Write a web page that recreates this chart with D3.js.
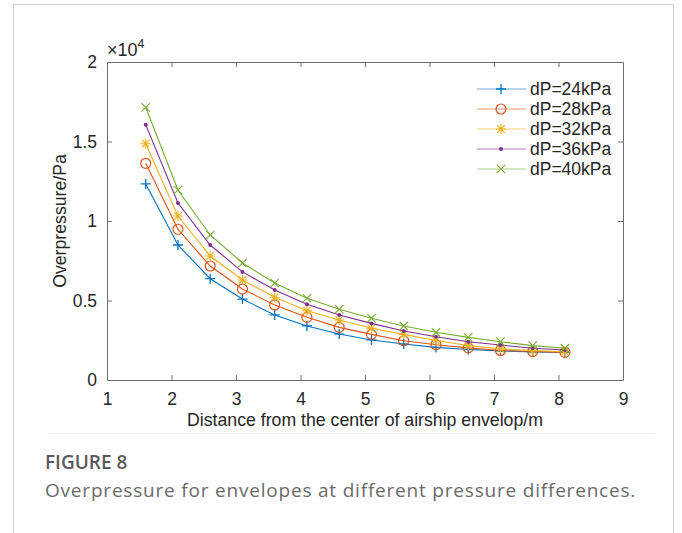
<!DOCTYPE html>
<html lang="en">
<head>
    <meta charset="UTF-8">
    <script src="https://cdn.jsdelivr.net/npm/d3@7"></script>
    <title>Figure 8</title>
    <style>
        body { margin: 0; background: white; }
        svg { display: block; }
    </style>
</head>
<body>
    <div class="fig"></div>
    <script>
        // distance from centre (m)
        const distances = [1.6, 2.1, 2.6, 3.1, 3.6, 4.1, 4.6, 5.1, 5.6, 6.1, 6.6, 7.1, 7.6, 8.1];

        // overpressure (Pa) for each pressure difference
        const dp24 = [12330, 8490, 6370, 5090, 4090, 3400, 2890, 2520, 2260, 2050, 1920, 1830, 1770, 1740];
        const dp28 = [13630, 9480, 7170, 5720, 4720, 3940, 3310, 2870, 2470, 2220, 2020, 1860, 1790, 1740];
        const dp32 = [14860, 10310, 7800, 6290, 5200, 4360, 3770, 3250, 2870, 2480, 2170, 1960, 1850, 1780];
        const dp36 = [16060, 11130, 8490, 6800, 5660, 4760, 4090, 3560, 3080, 2720, 2410, 2200, 2000, 1890];
        const dp40 = [17150, 11950, 9120, 7360, 6100, 5140, 4450, 3880, 3400, 3000, 2680, 2410, 2160, 2000];

        const seriesNames = ["dP=24kPa", "dP=28kPa", "dP=32kPa", "dP=36kPa", "dP=40kPa"];
        const seriesColors = ["#0072BD", "#D95319", "#EDB120", "#7E2F8E", "#77AC30"];
        const seriesMarkers = ["plus", "circle", "star", "dot", "cross"];
        const seriesValues = [dp24, dp28, dp32, dp36, dp40];

        const xTicks = [1, 2, 3, 4, 5, 6, 7, 8, 9];
        const yTicks = [0, 5000, 10000, 15000, 20000];
        const yTickLabels = ["0", "0.5", "1", "1.5", "2"];

        const width = 682, height = 533;
        const plot = { left: 107, top: 62, right: 623, bottom: 380 };

        const svg = d3.select(".fig").append("svg")
            .attr("width", width)
            .attr("height", height);

        // card outline
        svg.append("path")
            .attr("d", `M13.5,${height} V4.5 H673.5 V${height}`)
            .attr("fill", "none")
            .attr("stroke", "#d0d0d0")
            .attr("stroke-width", 1);

        const x = d3.scaleLinear().domain([1, 9]).range([plot.left, plot.right]);
        const y = d3.scaleLinear().domain([0, 20000]).range([plot.bottom, plot.top]);

        const axisColor = "#6e6e6e";
        const font = "'Liberation Sans', Arial, sans-serif";

        // axes (ticks point inward, box on)
        const gx = svg.append("g")
            .attr("transform", `translate(0,${plot.bottom})`)
            .call(d3.axisBottom(x).tickValues(xTicks).tickSizeInner(-5).tickSizeOuter(0).tickPadding(13));
        const gxTop = svg.append("g")
            .attr("transform", `translate(0,${plot.top})`)
            .call(d3.axisTop(x).tickValues(xTicks).tickSizeInner(-5).tickSizeOuter(0).tickFormat(""));
        const gy = svg.append("g")
            .attr("transform", `translate(${plot.left},0)`)
            .call(d3.axisLeft(y).tickValues(yTicks).tickSizeInner(-5).tickSizeOuter(0).tickPadding(10)
                .tickFormat((d, i) => yTickLabels[i]));
        const gyRight = svg.append("g")
            .attr("transform", `translate(${plot.right},0)`)
            .call(d3.axisRight(y).tickValues(yTicks).tickSizeInner(-5).tickSizeOuter(0).tickFormat(""));

        [gx, gxTop, gy, gyRight].forEach(g => {
            g.select(".domain").attr("stroke", axisColor);
            g.selectAll(".tick line").attr("stroke", axisColor);
            g.selectAll(".tick text")
                .attr("fill", "#262626")
                .style("font-family", font)
                .style("font-size", "17.5px");
        });
        gx.selectAll(".tick line").filter(d => d === 1 || d === 9).remove();
        gxTop.selectAll(".tick line").filter(d => d === 1 || d === 9).remove();
        gy.selectAll(".tick line").filter(d => d === 0 || d === 20000).remove();
        gyRight.selectAll(".tick line").filter(d => d === 0 || d === 20000).remove();

        // exponent label
        const expo = svg.append("text")
            .attr("x", plot.left)
            .attr("y", plot.top - 6)
            .attr("fill", "#262626")
            .style("font-family", font)
            .style("font-size", "18px");
        expo.append("tspan").text("\u00d710");
        expo.append("tspan").attr("dy", -8).style("font-size", "12.5px").text("4");

        // axis titles
        svg.append("text")
            .attr("x", (plot.left + plot.right) / 2)
            .attr("y", 426)
            .attr("text-anchor", "middle")
            .attr("fill", "#262626")
            .style("font-family", font)
            .style("font-size", "17.7px")
            .text("Distance from the center of airship envelop/m");

        svg.append("text")
            .attr("transform", `translate(66,${(plot.top + plot.bottom) / 2}) rotate(-90)`)
            .attr("text-anchor", "middle")
            .attr("fill", "#262626")
            .style("font-family", font)
            .style("font-size", "17.7px")
            .text("Overpressure/Pa");

        // marker drawing
        const drawMarker = (g, type, cx, cy, color) => {
            const s = 5;
            if (type === "plus") {
                g.append("path").attr("d", `M${cx - s},${cy} H${cx + s} M${cx},${cy - s} V${cy + s}`)
                    .attr("stroke", color).attr("stroke-width", 1.3).attr("fill", "none");
            } else if (type === "circle") {
                g.append("circle").attr("cx", cx).attr("cy", cy).attr("r", 5)
                    .attr("stroke", color).attr("stroke-width", 1.2).attr("fill", "none");
            } else if (type === "star") {
                const d = s * 0.75;
                g.append("path").attr("d", `M${cx - s},${cy} H${cx + s} M${cx},${cy - s} V${cy + s} M${cx - d},${cy - d} L${cx + d},${cy + d} M${cx - d},${cy + d} L${cx + d},${cy - d}`)
                    .attr("stroke", color).attr("stroke-width", 1.1).attr("fill", "none");
            } else if (type === "dot") {
                g.append("circle").attr("cx", cx).attr("cy", cy).attr("r", 2)
                    .attr("fill", color);
            } else if (type === "cross") {
                const d = 4.2;
                g.append("path").attr("d", `M${cx - d},${cy - d} L${cx + d},${cy + d} M${cx - d},${cy + d} L${cx + d},${cy - d}`)
                    .attr("stroke", color).attr("stroke-width", 1.1).attr("fill", "none");
            }
        };

        const line = d3.line()
            .x((d, i) => x(distances[i]))
            .y(d => y(d));

        seriesValues.forEach((vals, k) => {
            const g = svg.append("g");
            g.append("path")
                .attr("d", line(vals))
                .attr("fill", "none")
                .attr("stroke", seriesColors[k])
                .attr("stroke-width", 1.1);
            vals.forEach((v, i) => drawMarker(g, seriesMarkers[k], x(distances[i]), y(v), seriesColors[k]));
        });

        // legend
        const legend = svg.append("g");
        seriesNames.forEach((name, k) => {
            const ly = 89 + k * 20;
            legend.append("line")
                .attr("x1", 477).attr("x2", 526)
                .attr("y1", ly).attr("y2", ly)
                .attr("stroke", seriesColors[k])
                .attr("stroke-opacity", 0.6)
                .attr("stroke-width", 1);
            drawMarker(legend, seriesMarkers[k], 501, ly, seriesColors[k]);
            legend.append("text")
                .attr("x", 530)
                .attr("y", ly + 6)
                .attr("fill", "#262626")
                .style("font-family", font)
                .style("font-size", "17.5px")
                .text(name);
        });

        // separator under chart image
        svg.append("line")
            .attr("x1", 48).attr("x2", 655)
            .attr("y1", 433.5).attr("y2", 433.5)
            .attr("stroke", "#ececec");

        // caption
        svg.append("text")
            .attr("x", 45)
            .attr("y", 469)
            .attr("fill", "#5a5a5a")
            .style("font-family", "'Open Sans', 'Noto Sans', sans-serif")
            .style("font-size", "19px")
            .style("font-weight", "600")
            .text("FIGURE 8");

        svg.append("text")
            .attr("x", 45)
            .attr("y", 497)
            .attr("fill", "#6a6a6a")
            .style("font-family", "'Open Sans', 'Noto Sans', sans-serif")
            .style("font-size", "19px")
            .style("letter-spacing", "0.8px")
            .text("Overpressure for envelopes at different pressure differences.");
    </script>
</body>
</html>
